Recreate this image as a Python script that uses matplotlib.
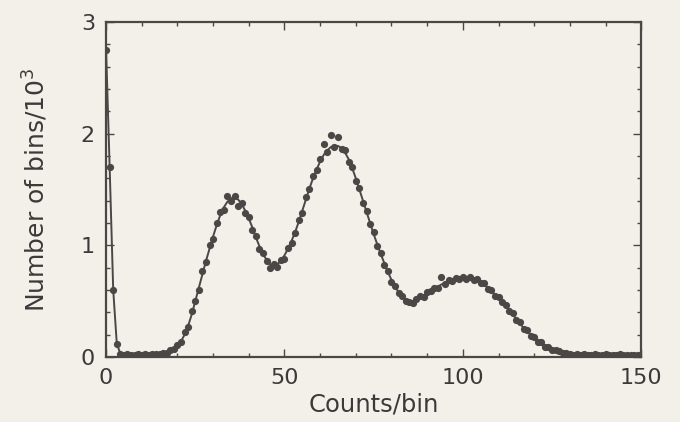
import matplotlib
matplotlib.use("Agg")
import matplotlib.pyplot as plt
from matplotlib.ticker import MultipleLocator

# Counts per bin (x) and measured number of bins (in thousands)
counts = list(range(0, 151))

measured = [
    2.75, 1.70, 0.60, 0.12, 0.03, 0.02, 0.03, 0.02, 0.02, 0.03,
    0.02, 0.03, 0.02, 0.03, 0.03, 0.03, 0.04, 0.04, 0.06, 0.07,
    0.11, 0.13, 0.22, 0.27, 0.41, 0.50, 0.60, 0.77, 0.85, 1.00,
    1.06, 1.20, 1.30, 1.32, 1.44, 1.40, 1.44, 1.35, 1.38, 1.29,
    1.25, 1.14, 1.08, 0.97, 0.93, 0.86, 0.80, 0.83, 0.81, 0.87,
    0.88, 0.98, 1.02, 1.11, 1.23, 1.29, 1.43, 1.50, 1.62, 1.67,
    1.77, 1.91, 1.84, 1.99, 1.88, 1.97, 1.86, 1.85, 1.75, 1.70,
    1.58, 1.51, 1.38, 1.31, 1.19, 1.12, 0.99, 0.93, 0.82, 0.77,
    0.67, 0.64, 0.57, 0.55, 0.50, 0.49, 0.48, 0.52, 0.55, 0.54,
    0.58, 0.59, 0.62, 0.62, 0.72, 0.65, 0.69, 0.68, 0.71, 0.70,
    0.72, 0.70, 0.72, 0.69, 0.70, 0.66, 0.66, 0.61, 0.60, 0.55,
    0.54, 0.49, 0.47, 0.41, 0.39, 0.33, 0.31, 0.25, 0.24, 0.19,
    0.18, 0.13, 0.13, 0.09, 0.09, 0.06, 0.06, 0.05, 0.04, 0.04,
    0.03, 0.02, 0.03, 0.02, 0.03, 0.02, 0.02, 0.03, 0.02, 0.02,
    0.03, 0.02, 0.02, 0.02, 0.03, 0.02, 0.02, 0.02, 0.02, 0.02,
    0.02,
]

# Fitted model curve evaluated at the same counts
fitted = [
    2.75, 1.70, 0.60, 0.12, 0.03, 0.02, 0.02, 0.02, 0.02, 0.02,
    0.02, 0.02, 0.02, 0.02, 0.02, 0.025, 0.03, 0.04, 0.05, 0.07,
    0.10, 0.14, 0.20, 0.28, 0.38, 0.50, 0.62, 0.74, 0.86, 0.97,
    1.08, 1.18, 1.27, 1.34, 1.39, 1.42, 1.43, 1.41, 1.37, 1.31,
    1.24, 1.16, 1.07, 0.99, 0.92, 0.87, 0.83, 0.82, 0.83, 0.86,
    0.91, 0.97, 1.04, 1.12, 1.21, 1.31, 1.41, 1.51, 1.60, 1.68,
    1.75, 1.81, 1.85, 1.88, 1.89, 1.89, 1.87, 1.83, 1.77, 1.69,
    1.60, 1.50, 1.40, 1.30, 1.20, 1.10, 1.01, 0.92, 0.84, 0.76,
    0.69, 0.63, 0.58, 0.54, 0.51, 0.50, 0.50, 0.51, 0.53, 0.55,
    0.57, 0.59, 0.61, 0.63, 0.65, 0.66, 0.68, 0.69, 0.70, 0.71,
    0.71, 0.71, 0.71, 0.70, 0.69, 0.67, 0.65, 0.62, 0.59, 0.56,
    0.53, 0.50, 0.46, 0.42, 0.38, 0.34, 0.30, 0.26, 0.23, 0.20,
    0.17, 0.14, 0.12, 0.10, 0.08, 0.07, 0.06, 0.05, 0.04, 0.04,
    0.03, 0.03, 0.02, 0.02, 0.02, 0.02, 0.02, 0.02, 0.02, 0.02,
    0.02, 0.02, 0.02, 0.02, 0.02, 0.02, 0.02, 0.02, 0.02, 0.02,
    0.02,
]

x_ticks = [0, 50, 100, 150]
y_ticks = [0, 1, 2, 3]

paper = "#f3f0e9"
ink = "#4a4846"
text_ink = "#3a3a3a"

plt.rcParams["font.family"] = ["DejaVu Sans"]

fig = plt.figure(figsize=(6.8, 4.22), dpi=100, facecolor=paper)
ax = fig.add_axes([0.156, 0.154, 0.787, 0.794], facecolor=paper)

ax.plot(counts, fitted, color=ink, lw=1.4, zorder=2)
ax.plot(counts, measured, "o", color=ink, ms=5.2, mec="none", zorder=3)

ax.set_xlim(0, 150)
ax.set_ylim(0, 3)
ax.set_xticks(x_ticks)
ax.set_yticks(y_ticks)
ax.xaxis.set_minor_locator(MultipleLocator(10))
ax.yaxis.set_minor_locator(MultipleLocator(0.2))

ax.tick_params(which="both", direction="in", top=True, right=True,
               color=ink, width=1.0)
ax.tick_params(which="major", length=6, labelsize=16, labelcolor=text_ink,
               pad=8)
ax.tick_params(which="minor", length=3)

for s in ax.spines.values():
    s.set_color(ink)
    s.set_linewidth(1.6)

ax.set_xlabel("Counts/bin", fontsize=17.5, color=text_ink, labelpad=3)
ax.set_ylabel("Number of bins/10$^3$", fontsize=18, color=text_ink,
              labelpad=22)

fig.savefig("out.png", dpi=100, facecolor=paper)
